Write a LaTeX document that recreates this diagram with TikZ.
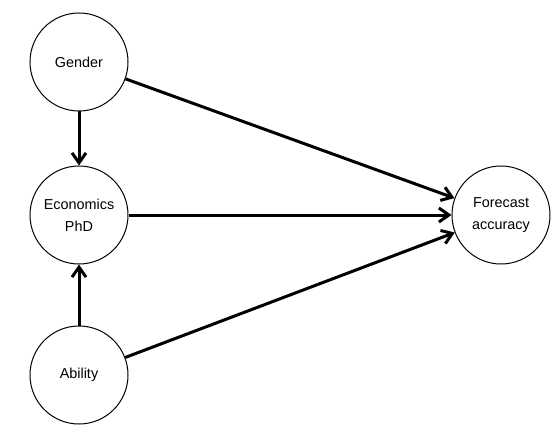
\documentclass[tikz,border=0pt]{standalone}
\usepackage{fontspec}
\setmainfont{Liberation Sans}
\usetikzlibrary{arrows.meta}
\begin{document}
\begin{tikzpicture}[x=0.75pt,y=-0.75pt,
  var/.style={circle,draw,line width=0.75pt,minimum size=73.5pt,inner sep=0pt,align=center,font=\fontsize{10.8}{16.5}\selectfont},
  edge/.style={line width=2.25pt,-{Straight Barb[length=7.5pt,width=10.5pt,line width=2.25pt]}}]
\useasboundingbox (0,0) rectangle (556,431);
\node[var] (g) at (79,62) {Gender};
\node[var] (e) at (79,215) {Economics\\PhD};
\node[var] (a) at (79,375) {Ability};
\node[var] (f) at (501,215) {Forecast\\accuracy};
\draw[edge] (g) -- (e);
\draw[edge] (a) -- (e);
\draw[edge] (g) -- (f);
\draw[edge] (e) -- (f);
\draw[edge] (a) -- (f);
\end{tikzpicture}
\end{document}
